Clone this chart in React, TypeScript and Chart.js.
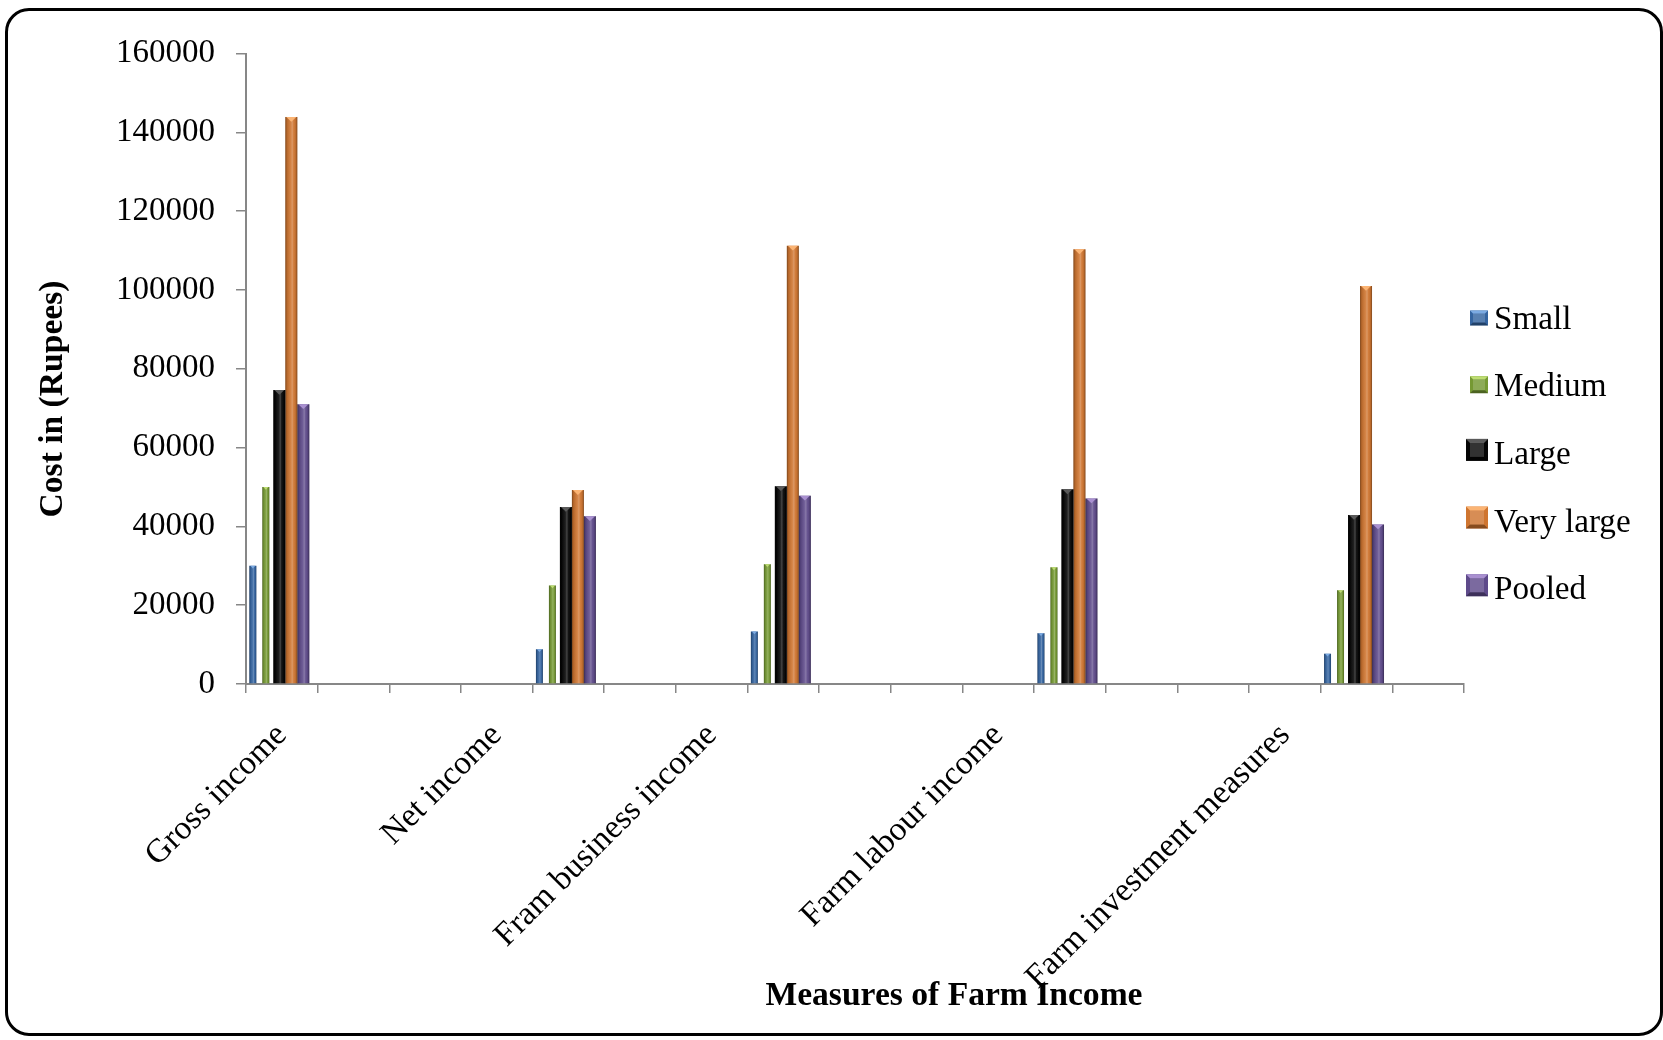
import { useEffect, useRef } from 'react';
import { Chart, registerables } from 'chart.js';

Chart.register(...registerables);

// Category axis: 17 slots, only some of them carry a label.
const categories = [
  'Gross income', '', '', 'Net income', '', '', 'Fram business income', '', '', '',
  'Farm labour income', '', '', '', 'Farm investment measures', '', '',
];
// Slots of the category axis that hold the five bar groups.
const groupSlots = [0, 4, 7, 11, 15];

const seriesNames = ['Small', 'Medium', 'Large', 'Very large', 'Pooled'];
const small = [30000, 8800, 13300, 12900, 7700];
const medium = [50000, 25000, 30400, 29600, 23800];
const large = [74600, 44900, 50200, 49400, 42900];
const veryLarge = [143900, 49200, 111200, 110300, 101000];
const pooled = [71000, 42600, 47800, 47100, 40500];
const seriesValues = [small, medium, large, veryLarge, pooled];

const yMin = 0;
const yMax = 160000;
const yStep = 20000;

const yAxisTitle = 'Cost in (Rupees)';
const xAxisTitle = 'Measures of Farm Income';

const FONT = "'Liberation Serif', 'Times New Roman', serif";
const AXIS_GREY = '#878787';

// Look of each series: fill, lighter bevel, slot share and small sideways offset.
const seriesStyles = [
  { base: '#3464A0', cap: '#7BAAE2', barPercentage: 0.58, nudge: -5, swatch: [18, 15] },
  { base: '#759933', cap: '#BEDD72', barPercentage: 0.58, nudge: -4, swatch: [18, 17] },
  { base: '#050505', cap: '#5A5A5A', barPercentage: 1, nudge: -2.5, swatch: [22, 22] },
  { base: '#CF7530', cap: '#FBB474', barPercentage: 1, nudge: -2.5, swatch: [22, 22] },
  { base: '#5E4A8A', cap: '#A990D0', barPercentage: 1, nudge: -2.5, swatch: [22, 22] },
];

const toSlots = (values: number[]) =>
  categories.map((_, i) => {
    const k = groupSlots.indexOf(i);
    return k >= 0 ? values[k] : null;
  });

const yTicks: number[] = [];
for (let v = yMin; v <= yMax; v += yStep) yTicks.push(v);

// Shifts bars a little to the left inside their slots.
const barNudge = {
  id: 'barNudge',
  afterDatasetsUpdate(chart: any) {
    chart.data.datasets.forEach((_: any, di: number) => {
      const meta = chart.getDatasetMeta(di);
      meta.data.forEach((el: any) => {
        el.x += seriesStyles[di].nudge;
      });
    });
  },
};

// Cylinder-like shading and a bevelled top on each bar.
const barShading = {
  id: 'barShading',
  afterDatasetsDraw(chart: any) {
    const ctx = chart.ctx as CanvasRenderingContext2D;
    chart.data.datasets.forEach((ds: any, di: number) => {
      const meta = chart.getDatasetMeta(di);
      const st = seriesStyles[di];
      meta.data.forEach((el: any, i: number) => {
        if (ds.data[i] == null) return;
        const { x, y, base, width } = el.getProps(['x', 'y', 'base', 'width'], true);
        const left = x - width / 2;
        const h = base - y;
        ctx.save();
        const g = ctx.createLinearGradient(left, 0, left + width, 0);
        g.addColorStop(0, 'rgba(0,0,0,0.40)');
        g.addColorStop(0.14, 'rgba(0,0,0,0.12)');
        g.addColorStop(0.45, 'rgba(255,255,255,0.10)');
        g.addColorStop(0.58, 'rgba(255,255,255,0.26)');
        g.addColorStop(0.7, 'rgba(255,255,255,0.06)');
        g.addColorStop(0.88, 'rgba(0,0,0,0.10)');
        g.addColorStop(1, 'rgba(0,0,0,0.40)');
        ctx.fillStyle = g;
        ctx.fillRect(left, y, width, h);
        ctx.fillStyle = st.cap;
        ctx.beginPath();
        ctx.moveTo(left + 1, y);
        ctx.lineTo(left + width - 1, y);
        ctx.lineTo(x, y + Math.min(5, width * 0.4));
        ctx.closePath();
        ctx.fill();
        ctx.restore();
      });
    });
  },
};

// Axis titles and the right-hand legend.
const chartDecor = {
  id: 'chartDecor',
  afterDraw(chart: any) {
    const ctx = chart.ctx as CanvasRenderingContext2D;
    ctx.save();
    ctx.fillStyle = '#000';
    ctx.font = `bold 33.6px ${FONT}`;
    ctx.textAlign = 'center';
    ctx.textBaseline = 'middle';
    ctx.fillText(xAxisTitle, 954, 996);
    ctx.save();
    ctx.translate(53, 399);
    ctx.rotate(-Math.PI / 2);
    ctx.fillText(yAxisTitle, 0, 0);
    ctx.restore();

    ctx.font = `33.2px ${FONT}`;
    ctx.textAlign = 'left';
    ctx.textBaseline = 'alphabetic';
    seriesNames.forEach((name, i) => {
      const st = seriesStyles[i];
      const baseline = 328.5 + i * 67.7;
      const [w, h] = st.swatch;
      const bx = 1488 - w;
      const by = baseline - 3 - h;
      ctx.fillStyle = st.base;
      ctx.fillRect(bx, by, w, h);
      const b = Math.max(3, Math.round(h * 0.2));
      // lighter top facet, darker bottom facet
      ctx.fillStyle = st.cap;
      ctx.beginPath();
      ctx.moveTo(bx, by);
      ctx.lineTo(bx + w, by);
      ctx.lineTo(bx + w - b, by + b);
      ctx.lineTo(bx + b, by + b);
      ctx.closePath();
      ctx.fill();
      ctx.fillStyle = 'rgba(0,0,0,0.35)';
      ctx.beginPath();
      ctx.moveTo(bx, by + h);
      ctx.lineTo(bx + w, by + h);
      ctx.lineTo(bx + w - b, by + h - b);
      ctx.lineTo(bx + b, by + h - b);
      ctx.closePath();
      ctx.fill();
      ctx.fillStyle = 'rgba(255,255,255,0.18)';
      ctx.fillRect(bx + b, by + b, w - 2 * b, h - 2 * b);
      ctx.fillStyle = '#000';
      ctx.fillText(name, 1494, baseline);
    });
    ctx.restore();
  },
};

export default function App() {
  const canvasRef = useRef<HTMLCanvasElement | null>(null);

  useEffect(() => {
    const canvas = canvasRef.current;
    if (!canvas) return;
    const chart = new Chart(canvas, {
      type: 'bar',
      data: {
        labels: categories,
        datasets: seriesNames.map((name, i) => ({
          label: name,
          data: toSlots(seriesValues[i]),
          backgroundColor: seriesStyles[i].base,
          borderWidth: 0,
          barPercentage: seriesStyles[i].barPercentage,
          categoryPercentage: 0.837,
        })),
      },
      options: {
        responsive: false,
        animation: false,
        devicePixelRatio: 1,
        layout: { padding: { left: 0, top: 53.5, right: 199, bottom: 0 } },
        plugins: {
          legend: { display: false },
          tooltip: { enabled: false },
        },
        scales: {
          x: {
            offset: true,
            afterFit: (scale: any) => {
              scale.height = 1040 - 684;
            },
            grid: {
              offset: true,
              drawOnChartArea: false,
              drawTicks: true,
              tickLength: 9,
              color: AXIS_GREY,
              lineWidth: 1.5,
            },
            border: { color: AXIS_GREY, width: 2 },
            ticks: {
              autoSkip: false,
              minRotation: 45,
              maxRotation: 45,
              padding: 23,
              color: '#000',
              font: { family: FONT, size: 33.4 },
            },
          },
          y: {
            min: yMin,
            max: yMax,
            afterFit: (scale: any) => {
              scale.width = 246;
            },
            afterBuildTicks: (scale: any) => {
              scale.ticks = yTicks.map((v) => ({ value: v }));
            },
            grid: {
              drawOnChartArea: false,
              drawTicks: true,
              tickLength: 10,
              color: AXIS_GREY,
              lineWidth: 1.5,
            },
            border: { color: AXIS_GREY, width: 2 },
            ticks: {
              padding: 21,
              color: '#000',
              font: { family: FONT, size: 33 },
              callback: (v: any) => String(v),
            },
          },
        },
      },
      plugins: [barNudge, barShading, chartDecor],
    });
    return () => chart.destroy();
  }, []);

  return (
    <div style={{ position: 'absolute', left: 0, top: 0, width: 1663, height: 1040, background: '#fff' }}>
      <div
        style={{
          position: 'absolute',
          left: 4.5,
          top: 7.5,
          width: 1658,
          height: 1028.5,
          border: '3px solid #000',
          borderRadius: 24,
          boxSizing: 'border-box',
        }}
      />
      <canvas
        ref={canvasRef}
        width={1663}
        height={1040}
        style={{ position: 'absolute', left: 0, top: 0, width: 1663, height: 1040 }}
      />
    </div>
  );
}
